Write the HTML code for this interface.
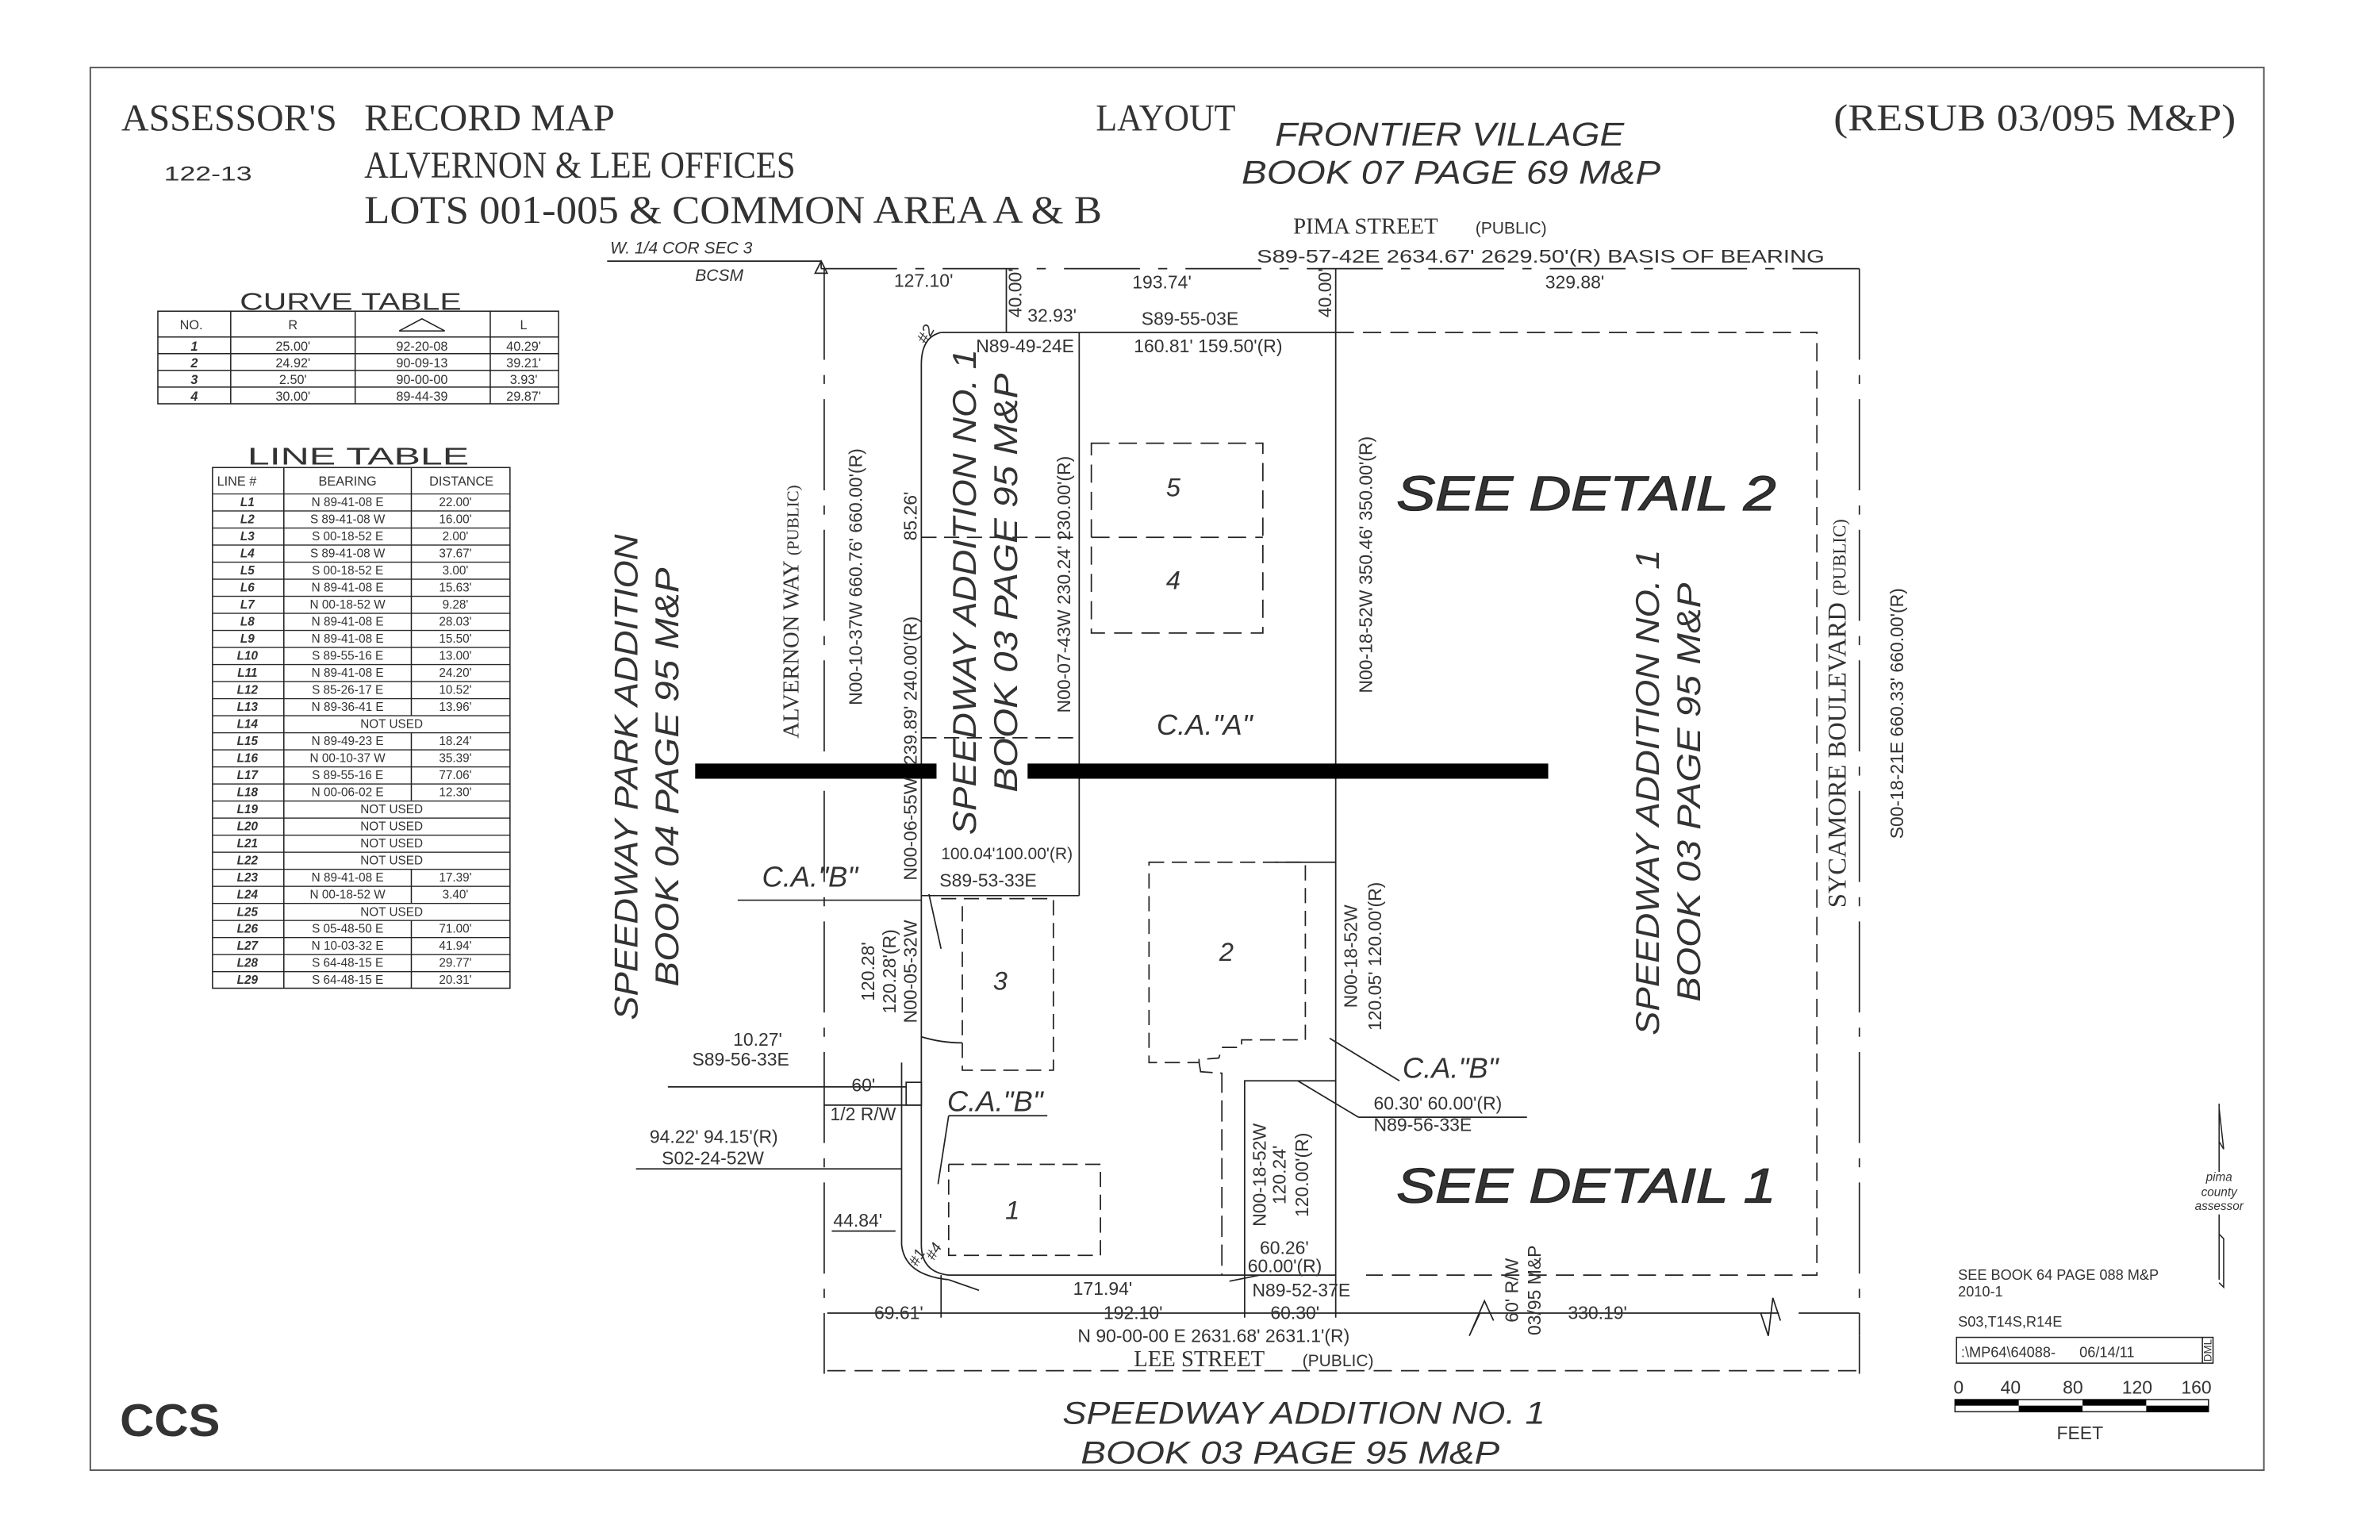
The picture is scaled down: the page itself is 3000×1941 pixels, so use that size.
<!DOCTYPE html>
<html><head><meta charset="utf-8"><style>
html,body{margin:0;padding:0;background:#fff}
svg{display:block}
text{font-family:"Liberation Sans",sans-serif;fill:#333}
.s{font-family:"Liberation Serif",serif}
.i{font-style:italic}
</style></head><body>
<svg width="3000" height="1941" viewBox="0 0 1568 1014.5" preserveAspectRatio="none" xmlns="http://www.w3.org/2000/svg">
<defs>
<pattern id="rows" patternUnits="userSpaceOnUse" x="0" y="325" width="400" height="11.241"><line x1="0" y1="0.3" x2="400" y2="0.3" stroke="#222" stroke-width="0.8"/></pattern>
</defs>
<rect x="0" y="0" width="1568" height="1015" fill="#fff"/>
<rect x="59.5" y="44.5" width="1432" height="924" fill="none" stroke="#555" stroke-width="1"/>

<text class="s" x="80" y="86" font-size="25" textLength="142" lengthAdjust="spacingAndGlyphs">ASSESSOR'S</text>
<text class="s" x="240" y="86" font-size="25" textLength="165" lengthAdjust="spacingAndGlyphs">RECORD MAP</text>
<text x="108" y="119" font-size="13" textLength="58" lengthAdjust="spacingAndGlyphs">122-13</text>
<text class="s" x="240" y="117" font-size="25" textLength="284" lengthAdjust="spacingAndGlyphs">ALVERNON &amp; LEE OFFICES</text>
<text class="s" x="240" y="147" font-size="26" textLength="486" lengthAdjust="spacingAndGlyphs">LOTS 001-005 &amp; COMMON AREA A &amp; B</text>
<text class="s" x="722" y="86" font-size="25" textLength="92" lengthAdjust="spacingAndGlyphs">LAYOUT</text>
<text class="i" x="840" y="96" font-size="22" textLength="230" lengthAdjust="spacingAndGlyphs" fill="#666">FRONTIER VILLAGE</text>
<text class="i" x="818" y="121" font-size="22" textLength="276" lengthAdjust="spacingAndGlyphs" fill="#666">BOOK 07 PAGE 69 M&amp;P</text>
<text class="s" x="1208" y="86" font-size="25" textLength="265" lengthAdjust="spacingAndGlyphs">(RESUB 03/095 M&amp;P)</text>

<text x="158" y="204" font-size="16" textLength="146" lengthAdjust="spacingAndGlyphs" fill="#555">CURVE TABLE</text>
<g stroke="#222" stroke-width="0.8" fill="none">
<rect x="104" y="205" width="264" height="61"/>
<line x1="104" y1="222" x2="368" y2="222"/><line x1="104" y1="233" x2="368" y2="233"/><line x1="104" y1="244" x2="368" y2="244"/><line x1="104" y1="255" x2="368" y2="255"/>
<line x1="152" y1="205" x2="152" y2="266"/><line x1="234" y1="205" x2="234" y2="266"/><line x1="323" y1="205" x2="323" y2="266"/>
<polyline points="263,218 278,210 293,218 263,218"/>
</g>
<g font-size="8.5" text-anchor="middle">
<text x="126" y="217">NO.</text><text x="193" y="217">R</text><text x="345" y="217">L</text>
<text x="128" y="231" class="i" font-weight="bold">1</text><text x="193" y="231">25.00'</text><text x="278" y="231">92-20-08</text><text x="345" y="231">40.29'</text>
<text x="128" y="242" class="i" font-weight="bold">2</text><text x="193" y="242">24.92'</text><text x="278" y="242">90-09-13</text><text x="345" y="242">39.21'</text>
<text x="128" y="253" class="i" font-weight="bold">3</text><text x="193" y="253">2.50'</text><text x="278" y="253">90-00-00</text><text x="345" y="253">3.93'</text>
<text x="128" y="264" class="i" font-weight="bold">4</text><text x="193" y="264">30.00'</text><text x="278" y="264">89-44-39</text><text x="345" y="264">29.87'</text>
</g>

<text x="163" y="306" font-size="16" textLength="146" lengthAdjust="spacingAndGlyphs" fill="#555">LINE TABLE</text>
<rect x="140" y="325" width="196" height="326" fill="url(#rows)"/>
<g stroke="#222" stroke-width="0.8" fill="none">
<rect x="140" y="308" width="196" height="343"/>
<line x1="187" y1="308" x2="187" y2="651"/>
<line x1="271" y1="308" x2="271" y2="471.1"/>
<line x1="271" y1="482.4" x2="271" y2="527.3"/>
<line x1="271" y1="572.3" x2="271" y2="594.8"/>
<line x1="271" y1="606" x2="271" y2="651"/>
</g>
<g font-size="8.5">
<text x="143" y="320">LINE #</text><text x="229" y="320" text-anchor="middle">BEARING</text><text x="304" y="320" text-anchor="middle">DISTANCE</text>
</g>
<g font-size="8" class="s i" font-weight="bold" text-anchor="middle">
<text x="163" y="333.5">L1</text><text x="163" y="344.7">L2</text><text x="163" y="356">L3</text><text x="163" y="367.2">L4</text><text x="163" y="378.5">L5</text><text x="163" y="389.7">L6</text><text x="163" y="400.9">L7</text><text x="163" y="412.2">L8</text><text x="163" y="423.4">L9</text><text x="163" y="434.7">L10</text><text x="163" y="445.9">L11</text><text x="163" y="457.1">L12</text><text x="163" y="468.4">L13</text><text x="163" y="479.6">L14</text><text x="163" y="490.9">L15</text><text x="163" y="502.1">L16</text><text x="163" y="513.3">L17</text><text x="163" y="524.6">L18</text><text x="163" y="535.8">L19</text><text x="163" y="547.1">L20</text><text x="163" y="558.3">L21</text><text x="163" y="569.5">L22</text><text x="163" y="580.8">L23</text><text x="163" y="592">L24</text><text x="163" y="603.3">L25</text><text x="163" y="614.5">L26</text><text x="163" y="625.7">L27</text><text x="163" y="637">L28</text><text x="163" y="648.2">L29</text>
</g>
<g font-size="8" text-anchor="middle">
<text x="229" y="333.5">N 89-41-08 E</text><text x="300" y="333.5">22.00'</text>
<text x="229" y="344.7">S 89-41-08 W</text><text x="300" y="344.7">16.00'</text>
<text x="229" y="356">S 00-18-52 E</text><text x="300" y="356">2.00'</text>
<text x="229" y="367.2">S 89-41-08 W</text><text x="300" y="367.2">37.67'</text>
<text x="229" y="378.5">S 00-18-52 E</text><text x="300" y="378.5">3.00'</text>
<text x="229" y="389.7">N 89-41-08 E</text><text x="300" y="389.7">15.63'</text>
<text x="229" y="400.9">N 00-18-52 W</text><text x="300" y="400.9">9.28'</text>
<text x="229" y="412.2">N 89-41-08 E</text><text x="300" y="412.2">28.03'</text>
<text x="229" y="423.4">N 89-41-08 E</text><text x="300" y="423.4">15.50'</text>
<text x="229" y="434.7">S 89-55-16 E</text><text x="300" y="434.7">13.00'</text>
<text x="229" y="445.9">N 89-41-08 E</text><text x="300" y="445.9">24.20'</text>
<text x="229" y="457.1">S 85-26-17 E</text><text x="300" y="457.1">10.52'</text>
<text x="229" y="468.4">N 89-36-41 E</text><text x="300" y="468.4">13.96'</text>
<text x="258" y="479.6">NOT USED</text>
<text x="229" y="490.9">N 89-49-23 E</text><text x="300" y="490.9">18.24'</text>
<text x="229" y="502.1">N 00-10-37 W</text><text x="300" y="502.1">35.39'</text>
<text x="229" y="513.3">S 89-55-16 E</text><text x="300" y="513.3">77.06'</text>
<text x="229" y="524.6">N 00-06-02 E</text><text x="300" y="524.6">12.30'</text>
<text x="258" y="535.8">NOT USED</text><text x="258" y="547.1">NOT USED</text><text x="258" y="558.3">NOT USED</text><text x="258" y="569.5">NOT USED</text>
<text x="229" y="580.8">N 89-41-08 E</text><text x="300" y="580.8">17.39'</text>
<text x="229" y="592">N 00-18-52 W</text><text x="300" y="592">3.40'</text>
<text x="258" y="603.3">NOT USED</text>
<text x="229" y="614.5">S 05-48-50 E</text><text x="300" y="614.5">71.00'</text>
<text x="229" y="625.7">N 10-03-32 E</text><text x="300" y="625.7">41.94'</text>
<text x="229" y="637">S 64-48-15 E</text><text x="300" y="637">29.77'</text>
<text x="229" y="648.2">S 64-48-15 E</text><text x="300" y="648.2">20.31'</text>
</g>

<g stroke="#222" stroke-width="0.9" fill="none">
<line x1="541" y1="177" x2="1225" y2="177" stroke-dasharray="50,12,6,12"/>
<line x1="1225" y1="177" x2="1225" y2="880" stroke-dasharray="60,10,6,10"/>
<line x1="1225" y1="880" x2="1225" y2="905"/>
<line x1="543" y1="177" x2="543" y2="905" stroke-dasharray="60,10,6,10"/>
<polygon points="541,172 537,180 545,180"/>
<line x1="541" y1="172" x2="541" y2="177"/>
<line x1="545" y1="903" x2="1225" y2="903" stroke-dasharray="12,6"/>
<path d="M620,219 L880,219"/>
<path d="M880,219 L1197,219 L1197,840 L900,840" stroke-dasharray="12,6"/>
<path d="M620,219 Q607,222 607,240 L607,820 Q607,838 625,840 L880,840"/>
<path d="M594,700 L594,820 Q596,840 625,843"/>
<line x1="711" y1="219" x2="711" y2="590"/>
<line x1="880" y1="177" x2="880" y2="840"/>
<line x1="663" y1="177" x2="663" y2="219"/>
<line x1="607" y1="354" x2="711" y2="354" stroke-dasharray="10,5"/>
<line x1="607" y1="486" x2="711" y2="486" stroke-dasharray="10,5"/>
<rect x="719" y="292" width="113" height="125" stroke-dasharray="12,6"/>
<line x1="719" y1="354" x2="832" y2="354" stroke-dasharray="12,6"/>
<line x1="607" y1="590" x2="711" y2="590"/>
<path d="M620,592 L694,592 L694,705 L634,705 L634,592" stroke-dasharray="10,5"/>
<path d="M607,683 Q620,687 634,687"/>
<path d="M757,568 L860,568 L860,685 L818,685 L818,690 L805,690 L803,697 L790,698 L790,700 L757,700 Z" stroke-dasharray="10,5"/>
<line x1="840" y1="568" x2="880" y2="568"/>
<path d="M790,700 L791,706 L805,707 L805,840" stroke-dasharray="14,5"/>
<path d="M820,840 L820,712 L880,712"/>
<path d="M625,767 L725,767 L725,827 L625,827 L625,767" stroke-dasharray="10,5"/>
<line x1="545" y1="865" x2="1172" y2="865"/>
<path d="M1160,865 L1165,880 L1168,855 L1173,870" />
<line x1="1185" y1="865" x2="1225" y2="865"/>
<line x1="620" y1="840" x2="620" y2="868"/>
<line x1="820" y1="840" x2="820" y2="868"/>
<line x1="880" y1="840" x2="880" y2="868"/>
<path d="M975,865 L968,880 L978,857 L984,870"/>
<line x1="612" y1="589" x2="620" y2="625"/>
<line x1="486" y1="593" x2="607" y2="593"/>
<line x1="440" y1="716" x2="597" y2="716"/>
<line x1="419" y1="770" x2="594" y2="770"/>
<line x1="548" y1="811" x2="590" y2="811"/>
<line x1="543" y1="728" x2="607" y2="728"/>
<rect x="597" y="713" width="10" height="15"/>
<line x1="625" y1="735" x2="690" y2="735"/>
<line x1="625" y1="735" x2="618" y2="780"/>
<line x1="876" y1="684" x2="922" y2="712"/>
<line x1="855" y1="712" x2="895" y2="736"/>
<line x1="895" y1="736" x2="1006" y2="736"/>
<line x1="625" y1="843" x2="645" y2="850"/>
<line x1="810" y1="844" x2="830" y2="840"/>
<line x1="400" y1="172" x2="541" y2="172"/>
</g>
<rect x="458" y="503" width="159" height="10" fill="#000"/>
<rect x="677" y="503" width="343" height="10" fill="#000"/>

<g font-size="12">
<text x="852" y="154" class="s" font-size="15">PIMA STREET</text><text x="972" y="154" font-size="11">(PUBLIC)</text>
<text x="828" y="173" font-size="12" textLength="374" lengthAdjust="spacingAndGlyphs">S89-57-42E 2634.67' 2629.50'(R) BASIS OF BEARING</text>
<text x="589" y="189">127.10'</text>
<text x="746" y="190">193.74'</text>
<text x="1018" y="190">329.88'</text>
<text x="677" y="212">32.93'</text>
<text x="752" y="214">S89-55-03E</text>
<text x="643" y="232">N89-49-24E</text>
<text x="747" y="232">160.81' 159.50'(R)</text>
<text x="620" y="566" font-size="11">100.04'100.00'(R)</text>
<text x="619" y="584">S89-53-33E</text>
<text x="483" y="689">10.27'</text>
<text x="456" y="702">S89-56-33E</text>
<text x="561" y="719">60'</text>
<text x="547" y="738">1/2 R/W</text>
<text x="428" y="753">94.22' 94.15'(R)</text>
<text x="436" y="767">S02-24-52W</text>
<text x="549" y="808">44.84'</text>
<text x="576" y="869">69.61'</text>
<text x="707" y="853">171.94'</text>
<text x="727" y="869">192.10'</text>
<text x="830" y="826">60.26'</text>
<text x="822" y="838">60.00'(R)</text>
<text x="825" y="854">N89-52-37E</text>
<text x="837" y="869">60.30'</text>
<text x="1033" y="869">330.19'</text>
<text x="710" y="884">N 90-00-00 E 2631.68' 2631.1'(R)</text>
<text x="905" y="731">60.30' 60.00'(R)</text>
<text x="905" y="745">N89-56-33E</text>
<text x="747" y="900" class="s" font-size="15">LEE STREET</text><text x="858" y="900" font-size="11">(PUBLIC)</text>
<text x="402" y="167" class="i" font-size="11">W. 1/4 COR SEC 3</text>
<text x="458" y="185" class="i" font-size="11">BCSM</text>
</g>
<g class="s i" font-size="19">
<text x="502" y="584">C.A."B"</text>
<text x="624" y="732">C.A."B"</text>
<text x="924" y="710">C.A."B"</text>
<text x="762" y="484">C.A."A"</text>
</g>
<g class="s i" font-size="17" text-anchor="middle">
<text x="773" y="327">5</text><text x="773" y="388">4</text><text x="659" y="652">3</text><text x="808" y="633">2</text><text x="667" y="803">1</text>
</g>
<g class="i" font-size="32" fill="#222" stroke="#222" stroke-width="0.7">
<text x="920" y="336" textLength="250" lengthAdjust="spacingAndGlyphs">SEE DETAIL 2</text>
<text x="920" y="792" textLength="250" lengthAdjust="spacingAndGlyphs">SEE DETAIL 1</text>
</g>
<g class="i" font-size="21" fill="#666">
<text x="700" y="938" textLength="318" lengthAdjust="spacingAndGlyphs">SPEEDWAY ADDITION NO. 1</text>
<text x="712" y="964" textLength="276" lengthAdjust="spacingAndGlyphs">BOOK 03 PAGE 95 M&amp;P</text>
</g>
<g class="i" font-size="22" fill="#666" text-anchor="middle">
<text transform="translate(420,512) rotate(-90)" textLength="320" lengthAdjust="spacingAndGlyphs">SPEEDWAY PARK ADDITION</text>
<text transform="translate(447,512) rotate(-90)" textLength="276" lengthAdjust="spacingAndGlyphs">BOOK 04 PAGE 95 M&amp;P</text>
<text transform="translate(643,390) rotate(-90)" textLength="320" lengthAdjust="spacingAndGlyphs">SPEEDWAY ADDITION NO. 1</text>
<text transform="translate(670,384) rotate(-90)" textLength="276" lengthAdjust="spacingAndGlyphs">BOOK 03 PAGE 95 M&amp;P</text>
<text transform="translate(1093,522) rotate(-90)" textLength="320" lengthAdjust="spacingAndGlyphs">SPEEDWAY ADDITION NO. 1</text>
<text transform="translate(1120,522) rotate(-90)" textLength="276" lengthAdjust="spacingAndGlyphs">BOOK 03 PAGE 95 M&amp;P</text>
</g>
<g font-size="12" text-anchor="middle">
<text transform="translate(526,403) rotate(-90)" class="s" font-size="15">ALVERNON WAY <tspan font-size="11">(PUBLIC)</tspan></text>
<text transform="translate(568,380) rotate(-90)">N00-10-37W 660.76' 660.00'(R)</text>
<text transform="translate(604,455) rotate(-90)">239.89' 240.00'(R)</text>
<text transform="translate(604,340) rotate(-90)">85.26'</text>
<text transform="translate(705,385) rotate(-90)">N00-07-43W 230.24' 230.00'(R)</text>
<text transform="translate(904,372) rotate(-90)">N00-18-52W 350.46' 350.00'(R)</text>
<text transform="translate(1216,470) rotate(-90)" class="s" font-size="17">SYCAMORE BOULEVARD <tspan font-size="12">(PUBLIC)</tspan></text>
<text transform="translate(1254,470) rotate(-90)">S00-18-21E 660.33' 660.00'(R)</text>
<text transform="translate(673,193) rotate(-90)">40.00'</text>
<text transform="translate(877,193) rotate(-90)">40.00'</text>
<text transform="translate(604,546) rotate(-90)">N00-06-55W</text>
<text transform="translate(576,640) rotate(-90)">120.28'</text>
<text transform="translate(590,640) rotate(-90)">120.28'(R)</text>
<text transform="translate(604,640) rotate(-90)">N00-05-32W</text>
<text transform="translate(894,630) rotate(-90)">N00-18-52W</text>
<text transform="translate(910,630) rotate(-90)">120.05' 120.00'(R)</text>
<text transform="translate(834,774) rotate(-90)">N00-18-52W</text>
<text transform="translate(847,774) rotate(-90)">120.24'</text>
<text transform="translate(862,774) rotate(-90)">120.00'(R)</text>
<text transform="translate(1000,850) rotate(-90)">60' R/W</text>
<text transform="translate(1015,850) rotate(-90)">03/95 M&amp;P</text>
<text transform="translate(613,222) rotate(-60)" font-size="11" class="i">#2</text>
<text transform="translate(607,830) rotate(-60)" font-size="10" class="i">#1</text>
<text transform="translate(618,826) rotate(-60)" font-size="10" class="i">#4</text>
</g>

<g stroke="#222" stroke-width="0.8" fill="none">
<path d="M1462,727 L1462,772 M1462,730 L1465,757 L1462,752"/>
<path d="M1462,800 L1462,843 M1462,813 L1465,816 L1465,848 L1462,845"/>
<rect x="1289" y="881" width="169" height="17"/>
<line x1="1451" y1="881" x2="1451" y2="898"/>
<rect x="1288" y="922" width="167" height="8"/>
</g>
<g fill="#000"><rect x="1288" y="922" width="42" height="4"/><rect x="1330" y="926" width="42" height="4"/><rect x="1372" y="922" width="42" height="4"/><rect x="1414" y="926" width="41" height="4"/></g>
<g font-size="8" class="i" text-anchor="middle"><text x="1462" y="778">pima</text><text x="1462" y="788">county</text><text x="1462" y="797">assessor</text></g>
<g font-size="9.5">
<text x="1290" y="843">SEE BOOK 64 PAGE 088 M&amp;P</text>
<text x="1290" y="854">2010-1</text>
<text x="1290" y="874">S03,T14S,R14E</text>
<text x="1292" y="894">:\MP64\64088-</text><text x="1370" y="894">06/14/11</text>
<text transform="translate(1457,897) rotate(-90)" font-size="7">DML</text>
<text x="1287" y="918" font-size="12">0</text><text x="1318" y="918" font-size="12">40</text><text x="1359" y="918" font-size="12">80</text><text x="1398" y="918" font-size="12">120</text><text x="1437" y="918" font-size="12">160</text>
<text x="1355" y="948" font-size="12">FEET</text>
</g>
<text x="79" y="946" font-size="30" font-weight="bold" fill="#888" textLength="66" lengthAdjust="spacingAndGlyphs">CCS</text>
</svg>
</body></html>
